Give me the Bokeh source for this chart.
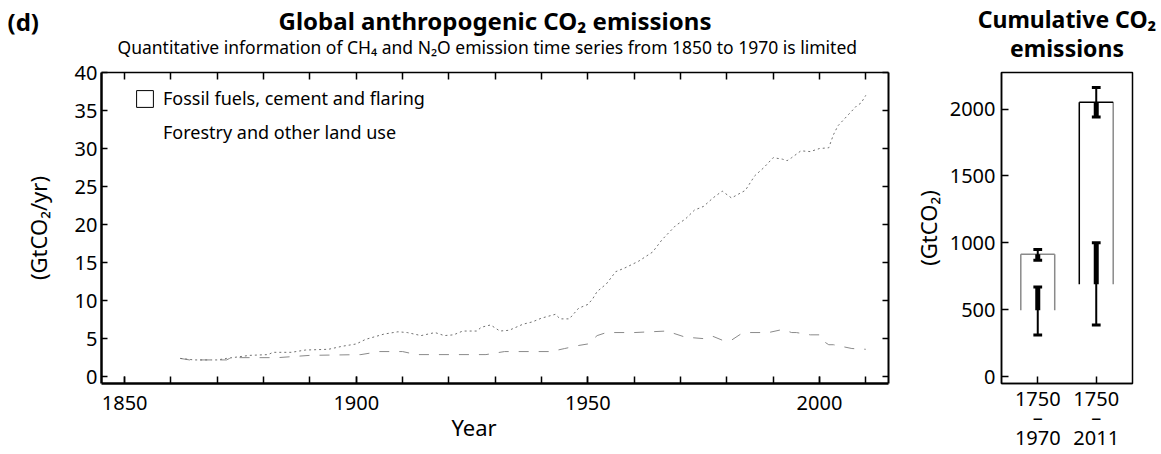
import numpy as np
from bokeh.plotting import figure
from bokeh.models import (Range1d, FixedTicker, LinearAxis, Title,
                          Legend, LegendItem)
from bokeh.layouts import row
from bokeh.embed import file_html
from bokeh.resources import INLINE

FONT = "Noto Sans"

# ---------------- data: annual emissions (GtCO2/yr) ----------------
total_years = [1862, 1865, 1870, 1872, 1877, 1881, 1882, 1886, 1889, 1894, 1897,
               1900, 1902, 1906, 1909, 1911, 1914, 1917, 1919, 1921, 1923, 1926,
               1927, 1929, 1931, 1933, 1936, 1938, 1940, 1943, 1944, 1946, 1948,
               1950, 1951, 1952, 1954, 1956, 1958, 1961, 1964, 1966, 1969, 1971,
               1973, 1975, 1977, 1979, 1981, 1984, 1986, 1988, 1990, 1992, 1993,
               1994, 1996, 1998, 2000, 2002, 2003, 2004, 2006, 2008, 2009, 2010]
total_values = [2.4, 2.2, 2.2, 2.4, 2.8, 2.9, 3.2, 3.2, 3.5, 3.6, 4.0,
                4.3, 4.9, 5.6, 5.9, 5.8, 5.4, 5.8, 5.4, 5.5, 6.0, 6.0,
                6.5, 6.8, 6.0, 6.1, 6.9, 7.2, 7.7, 8.2, 7.6, 7.6, 9.0,
                9.5, 10.2, 11.2, 12.2, 13.8, 14.3, 15.2, 16.4, 18.0, 19.9, 20.7,
                21.9, 22.4, 23.5, 24.4, 23.5, 24.5, 26.4, 27.5, 28.8, 28.6, 28.4,
                28.8, 29.7, 29.6, 30.0, 30.1, 31.8, 33.0, 34.3, 35.6, 36.0, 37.0]

forestry_years = [1862, 1864, 1872, 1873, 1883, 1890, 1901, 1903, 1905, 1910,
                  1913, 1921, 1928, 1932, 1942, 1945, 1948, 1950, 1952, 1954,
                  1960, 1967, 1971, 1975, 1977, 1979, 1981, 1983, 1985, 1989,
                  1992, 1994, 1995, 1998, 2000, 2001, 2002, 2003, 2007, 2010]
forestry_values = [2.4, 2.2, 2.2, 2.5, 2.5, 2.8, 2.9, 3.1, 3.3, 3.3,
                   2.9, 2.9, 2.9, 3.3, 3.3, 3.7, 4.1, 4.3, 5.4, 5.8,
                   5.8, 6.0, 5.2, 5.0, 5.3, 4.8, 4.8, 5.6, 5.8, 5.8,
                   6.2, 5.8, 5.8, 5.5, 5.5, 4.6, 4.2, 4.2, 3.7, 3.6]

x_major = [1850, 1900, 1950, 2000]
x_minor = list(range(1850, 2011, 10))
y_ticks = [0, 5, 10, 15, 20, 25, 30, 35, 40]

# ---------------- data: cumulative emissions (GtCO2) ----------------
periods = ["1750\n\u2013\n1970", "1750\n\u2013\n2011"]
cum_forestry = [495, 690]
cum_total = [915, 2050]
total_err_low = [870, 1940]
total_err_high = [950, 2160]
forestry_err_low = [310, 385]
forestry_err_high = [670, 1000]
cum_ticks = [0, 500, 1000, 1500, 2000]

H = 454
TICK_FS = "20px"
LABEL_FS = "22px"


def style_axis(ax):
    ax.axis_line_color = "black"
    ax.major_tick_out = 0
    ax.minor_tick_out = 0
    ax.major_tick_line_width = 1.5
    ax.minor_tick_line_width = 1.5
    ax.major_label_text_font = FONT
    ax.major_label_text_font_size = TICK_FS
    ax.major_label_text_color = "black"
    ax.axis_label_text_font = FONT
    ax.axis_label_text_font_size = LABEL_FS
    ax.axis_label_text_font_style = "normal"
    ax.axis_label_text_color = "black"


def title(text, size, bold, align="center", standoff=0, offset=0):
    return Title(text=text, text_font=FONT, text_font_size=size,
                 text_font_style="bold" if bold else "normal",
                 text_color="black", align=align, vertical_align="middle",
                 standoff=standoff, offset=offset)


# ======================= main panel =======================
p = figure(width=900, height=H, title=None,
           x_range=Range1d(1845.0, 2014.9), y_range=Range1d(-0.9, 40.0),
           output_backend="svg", toolbar_location=None,
           min_border_left=101, min_border_right=12,
           min_border_top=72, min_border_bottom=67)
p.outline_line_color = None
p.grid.visible = False

xa = p.xaxis[0]
xa.ticker = FixedTicker(ticks=x_major, minor_ticks=x_minor)
ya = p.yaxis[0]
ya.ticker = FixedTicker(ticks=y_ticks)
ya.axis_label = "(GtCO\u2082/yr)"
for ax in (xa, ya):
    style_axis(ax)
    ax.axis_line_width = 2.5
    ax.major_tick_in = 7
    ax.minor_tick_in = 7
ya.major_tick_in = 6
ya.minor_tick_in = 0
ya.major_label_standoff = 4
ya.axis_label_standoff = 19
xa.major_label_standoff = 12

# x-axis title sits left of centre, as in the original
p.add_layout(title("Year", LABEL_FS, False, align="left", standoff=-4, offset=350), "below")

# mirrored tick marks (drawn as unlabeled minor ticks)
top_ax = LinearAxis(ticker=FixedTicker(ticks=[], minor_ticks=x_minor),
                    axis_line_width=1.5, major_tick_in=0, major_tick_out=0,
                    minor_tick_in=7, minor_tick_out=0, minor_tick_line_width=1.5,
                    major_label_standoff=0)
right_ax = LinearAxis(ticker=FixedTicker(ticks=[], minor_ticks=y_ticks),
                      axis_line_width=2, major_tick_in=0, major_tick_out=0,
                      minor_tick_in=6, minor_tick_out=0, minor_tick_line_width=1.5,
                      major_label_standoff=0)
p.add_layout(top_ax, "above")
p.add_layout(right_ax, "right")

# subtitle, then panel letter and main title sharing one (zero-height) line
p.add_layout(title("Quantitative information of CH\u2084 and N\u2082O emission time series from 1850 to 1970 is limited",
                   "17.5px", False, align="left", standoff=25, offset=16), "above")
p.add_layout(title("(d)", "24px", True, align="left", standoff=-34, offset=-94), "above")
p.add_layout(title("Global anthropogenic CO\u2082 emissions", "24px", True, standoff=-34), "above")

p.line(forestry_years, forestry_values, line_color="#8a8a8a", line_width=1,
       line_dash="10 10")
p.line(total_years, total_values, line_color="#707070", line_width=1,
       line_dash="2 3")

# legend swatches (no data of their own)
box_r = p.quad(left=[np.nan], right=[np.nan], top=[np.nan], bottom=[np.nan],
               fill_color="white", line_color="black", line_width=1)
blank_r = p.quad(left=[np.nan], right=[np.nan], top=[np.nan], bottom=[np.nan],
                 fill_alpha=0, line_alpha=0)
legend = Legend(items=[LegendItem(label="Fossil fuels, cement and flaring", renderers=[box_r]),
                       LegendItem(label="Forestry and other land use", renderers=[blank_r])],
                location=(33, 239), glyph_width=21, glyph_height=21,
                label_standoff=8, spacing=10, padding=0, margin=0,
                border_line_color=None, background_fill_alpha=0,
                label_text_font=FONT, label_text_font_size="18px",
                label_text_color="black")
p.add_layout(legend, "center")

# ======================= cumulative panel =======================
q = figure(width=261, height=H, title=None,
           x_range=Range1d(0.38, 2.62), y_range=Range1d(-52, 2273),
           output_backend="svg", toolbar_location=None,
           min_border_left=101, min_border_right=29,
           min_border_top=72, min_border_bottom=67)
q.grid.visible = False
q.outline_line_color = "black"
q.outline_line_width = 1.5

pos = np.arange(1, len(periods) + 1)
qa = q.xaxis[0]
qa.ticker = FixedTicker(ticks=list(pos))
qa.major_label_overrides = {int(i): lab for i, lab in zip(pos, periods)}
qy = q.yaxis[0]
qy.ticker = FixedTicker(ticks=cum_ticks)
qy.axis_label = "(GtCO\u2082)"
for ax in (qa, qy):
    style_axis(ax)
    ax.axis_line_width = 1.5
    ax.major_tick_in = 7
    ax.minor_tick_in = 0
qa.major_label_text_line_height = 0.74
qa.major_label_standoff = 1
qy.major_label_standoff = 6
qy.axis_label_standoff = 4

q.add_layout(title("emissions", "23px", True, standoff=15), "above")
q.add_layout(title("Cumulative CO\u2082", "23px", True, standoff=-25), "above")

half = 0.29
f = np.array(cum_forestry, dtype=float)
t = np.array(cum_total, dtype=float)
side_l_col = ["#8a8a8a", "black"]
q.segment(x0=pos - half, y0=f, x1=pos - half, y1=t, line_color=side_l_col, line_width=1.5)
q.segment(x0=pos + half, y0=f, x1=pos + half, y1=t, line_color="#8a8a8a", line_width=1.5)
q.segment(x0=pos - half, y0=t, x1=pos + half, y1=t, line_color=side_l_col, line_width=1.5)

cap = 0.075
for lo, hi in ((total_err_low, total_err_high), (forestry_err_low, forestry_err_high)):
    lo = np.array(lo, dtype=float)
    hi = np.array(hi, dtype=float)
    q.segment(x0=pos, y0=lo, x1=pos, y1=hi, line_color="black", line_width=2)
    q.segment(x0=pos, y0=np.maximum(lo, f), x1=pos, y1=np.minimum(hi, t),
              line_color="black", line_width=5)
    q.segment(x0=pos - cap, y0=lo, x1=pos + cap, y1=lo, line_color="black", line_width=3)
    q.segment(x0=pos - cap, y0=hi, x1=pos + cap, y1=hi, line_color="black", line_width=3)

layout = row(p, q)
open("out.html", "w").write(file_html(layout, INLINE))
